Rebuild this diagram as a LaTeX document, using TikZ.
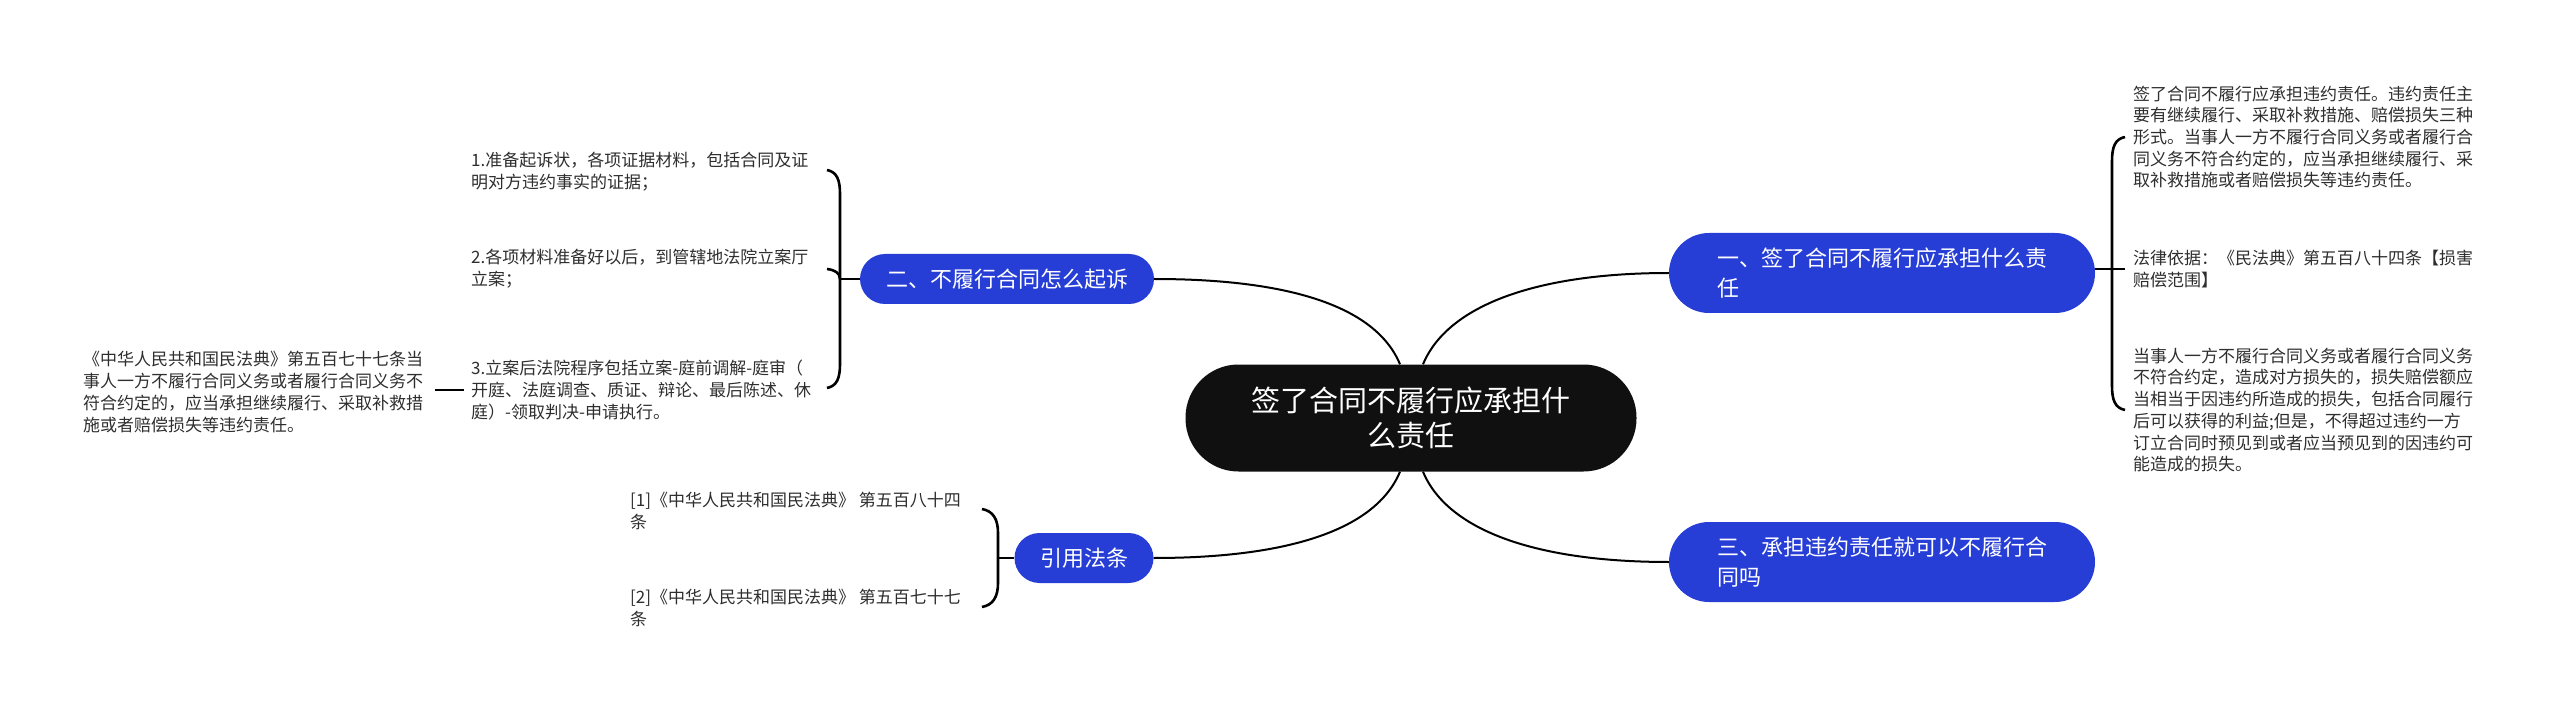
\documentclass[tikz,border=0pt]{standalone}
\usepackage{fontspec}
\setmainfont{Noto Sans CJK SC}
\usetikzlibrary{positioning}
\definecolor{topicblue}{RGB}{38,62,214}
\definecolor{rootblack}{RGB}{16,16,16}
\tikzset{
  root/.style  ={fill=rootblack,text=white,rounded corners=53pt,minimum width=451pt,minimum height=107pt,align=center,font=\fontsize{29}{35}\selectfont},
  topic/.style ={fill=topicblue,text=white,rounded corners=25pt,minimum height=50pt,align=left,font=\fontsize{22}{30}\selectfont},
  topic2/.style={topic,rounded corners=40pt,minimum height=80pt,minimum width=426pt},
  leaf/.style  ={anchor=west,inner sep=0pt,align=left,text=black!82,font=\fontsize{17}{21.7}\selectfont},
  link/.style  ={line width=2pt},
  brace/.style ={line width=2.6pt},
}
\begin{document}
\begin{tikzpicture}[x=1pt,y=-1pt]
  \useasboundingbox (0,0) rectangle (2560,711);
  % centre and main topics
  \node[root] (root) at (1411,418) {签了合同不履行应承担什\\么责任};
  \node[topic2] (n1) at (1882,273) {一、签了合同不履行应承担什么责\\任};
  \node[topic,minimum width=294pt] (n2) at (1007,279) {二、不履行合同怎么起诉};
  \node[topic2] (n3) at (1882,562) {三、承担违约责任就可以不履行合\\同吗};
  \node[topic,minimum width=139pt] (n4) at (1084,558) {引用法条};
  \draw[link] ([xshift=-11pt]root.north) .. controls +(-25,-60) and +(130,0) .. (n2.east);
  \draw[link] ([xshift=12pt]root.north) .. controls +(25,-60) and +(-130,0) .. (n1.west);
  \draw[link] ([xshift=-11pt]root.south) .. controls +(-25,60) and +(130,0) .. (n4.east);
  \draw[link] ([xshift=12pt]root.south) .. controls +(25,60) and +(-130,0) .. (n3.west);
  % right leaves
  \node[leaf] (a1) at (2133,137) {签了合同不履行应承担违约责任。违约责任主\\要有继续履行、采取补救措施、赔偿损失三种\\形式。当事人一方不履行合同义务或者履行合\\同义务不符合约定的，应当承担继续履行、采\\取补救措施或者赔偿损失等违约责任。};
  \node[leaf] (a2) at (2133,269) {法律依据：《民法典》第五百八十四条【损害\\赔偿范围】};
  \node[leaf] (a3) at (2133,410) {当事人一方不履行合同义务或者履行合同义务\\不符合约定，造成对方损失的，损失赔偿额应\\当相当于因违约所造成的损失，包括合同履行\\后可以获得的利益;但是，不得超过违约一方\\订立合同时预见到或者应当预见到的因违约可\\能造成的损失。};
  \coordinate (s1) at (2112,269);
  \draw[brace] (2125,137) .. controls (2115,139) and (2112,147) .. (2112,161) -- (2112,386) .. controls (2112,400) and (2115,408) .. (2125,410);
  \draw[brace] (n1.east |- s1) -- (s1) -- ([xshift=-8pt]a2.west);
  % left leaves
  \node[leaf] (b1) at (471,172) {1.准备起诉状，各项证据材料，包括合同及证\\明对方违约事实的证据；};
  \node[leaf] (b2) at (471,269) {2.各项材料准备好以后，到管辖地法院立案厅\\立案；};
  \node[leaf] (b3) at (471,390) {3.立案后法院程序包括立案-庭前调解-庭审（\\开庭、法庭调查、质证、辩论、最后陈述、休\\庭）-领取判决-申请执行。};
  \node[leaf] (b3law) at (83,392) {《中华人民共和国民法典》第五百七十七条当\\事人一方不履行合同义务或者履行合同义务不\\符合约定的，应当承担继续履行、采取补救措\\施或者赔偿损失等违约责任。};
  \coordinate (s2) at (840,279);
  \draw[brace] (827,170) .. controls (837,172) and (840,180) .. (840,194) -- (840,364) .. controls (840,378) and (837,386) .. (827,388);
  \draw[brace] (827,269) .. controls (835,270) and (840,273) .. (s2);
  \draw[brace] (s2) -- (n2.west);
  \draw[brace] ([xshift=12pt]b3law.east |- b3.west) -- ([xshift=-7pt]b3.west);
  % cited articles
  \node[leaf] (c1) at (630,511) {[1]《中华人民共和国民法典》 第五百八十四\\条};
  \node[leaf] (c2) at (630,608) {[2]《中华人民共和国民法典》 第五百七十七\\条};
  \coordinate (s4) at (998,558);
  \draw[brace] (982,509) .. controls (993,511) and (998,519) .. (998,533) -- (998,583) .. controls (998,597) and (993,605) .. (982,607);
  \draw[brace] (s4) -- (n4.west);
\end{tikzpicture}
\end{document}
